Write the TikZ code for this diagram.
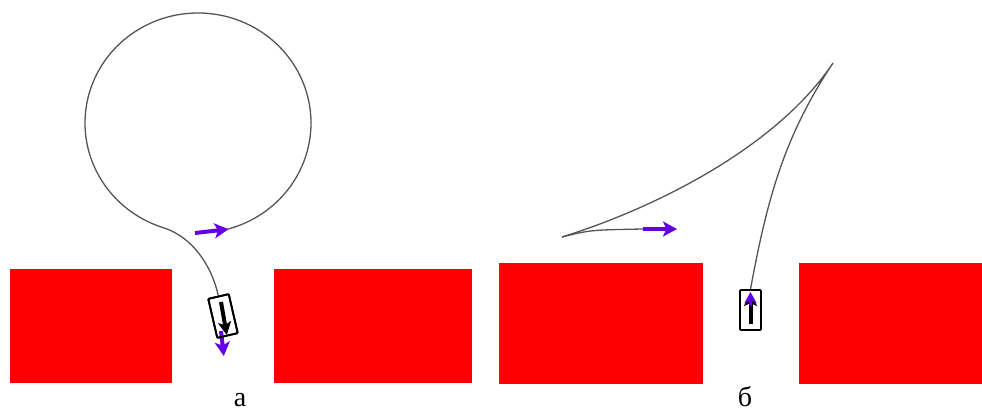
\documentclass[tikz,border=0pt]{standalone}
\usepackage{fontspec}
\setmainfont{Liberation Serif}
\usetikzlibrary{arrows.meta}
\definecolor{wallred}{RGB}{255,0,0}
\definecolor{dirviolet}{RGB}{100,0,230}
\definecolor{trajgray}{RGB}{85,85,85}
\begin{document}
\begin{tikzpicture}[x=1pt,y=-1pt,
  wall/.style={fill=wallred,draw=none},
  traj/.style={draw=trajgray,line width=1.3pt},
  car/.style={draw=black,line width=1.8pt,minimum width=21pt,minimum height=40pt,inner sep=0pt,rounded corners=0.8pt},
  dirarrow/.style={draw=dirviolet,line width=4pt,-{Stealth[length=14pt,width=15pt,inset=3.5pt]}},
  heading/.style={draw=black,line width=4pt,-{Stealth[length=13pt,width=13pt,inset=3pt]}},
  caption/.style={font=\fontsize{28}{30}\selectfont,anchor=base,inner sep=0pt}]
\useasboundingbox (0,0) rectangle (982,412);

% ---------- panel a ----------
\fill[wall] (10,269) rectangle (172,383);
\fill[wall] (274,269) rectangle (472,383);

\node[car,rotate=13] (carA) at (223,316) {};
\coordinate (loopstart) at (228.5,229.2);
\coordinate (arrAtail) at (195,233);
\coordinate (pdirAtail) at (221,331);
\coordinate (pdirAtip) at (223.8,356);

\draw[traj] plot[domain=-75:252,samples=140,smooth] ({198+113*cos(\x)},{123-110*sin(\x)})
  .. controls (193.6,237.3) and (212,267) .. (carA.north);
\draw[dirarrow] (arrAtail) -- (loopstart);
\draw[dirarrow] (pdirAtail) -- (pdirAtip);
\node[car,rotate=13] at (carA.center) {};
\coordinate (hAtail) at (221,302);
\coordinate (hAtip) at (226.8,335);
\draw[heading] (hAtail) -- (hAtip);

\node[caption] (labA) at (240,406) {а};

% ---------- panel b ----------
\fill[wall] (499,263) rectangle (703,384);
\fill[wall] (799,263) rectangle (982,384);

\node[car] (carB) at (750.5,310) {};
\coordinate (startB) at (562,237);
\coordinate (cusp) at (833,63);
\coordinate (arrBtail) at (643,229);
\coordinate (arrBtip) at (677,229);

\draw[traj] (startB) .. controls (590,230) .. (arrBtail);
\draw[traj] (startB) .. controls (657.5,207.3) and (777.5,146.2) .. (cusp)
  .. controls (783,138) and (766.8,201.6) .. (carB.north);
\draw[dirarrow] (arrBtail) -- (arrBtip);

\coordinate (hBtail) at (750.5,324);
\coordinate (hBtip) at (750.5,293);
\draw[heading] (hBtail) -- (hBtip);
\coordinate (pBtail) at (750.5,306);
\coordinate (pBtip) at (750.5,292);
\draw[draw=dirviolet,line width=3pt,-{Stealth[length=11pt,width=12pt,inset=2.5pt]}] (pBtail) -- (pBtip);

\node[caption] (labB) at (745,406) {б};
\end{tikzpicture}
\end{document}
